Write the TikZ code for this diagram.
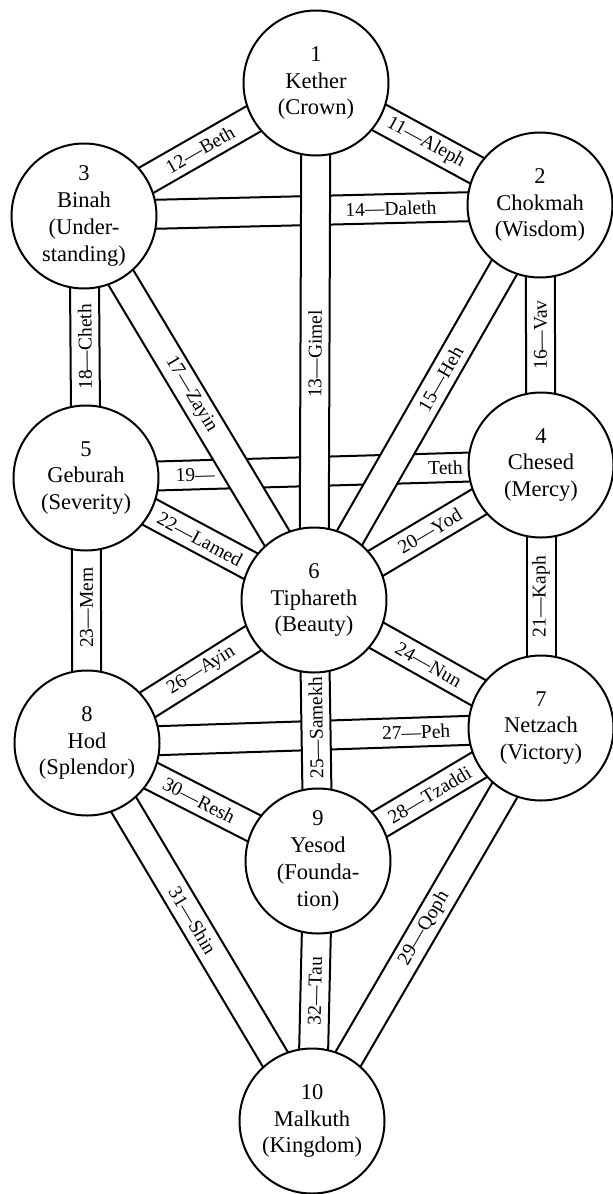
\documentclass[tikz,border=0pt]{standalone}
\usepackage{fontspec}
\setmainfont{Liberation Serif}
\usetikzlibrary{calc,backgrounds}
\tikzset{
  sephira/.style={circle, draw, line width=2pt, fill=white, minimum size=145pt,
    inner sep=0pt, align=center, font=\fontsize{22.5}{26.8}\selectfont},
  lbl/.style={font=\fontsize{19.5}{19.5}\selectfont, inner sep=0pt, sloped, allow upside down},
  bandline/.style={line width=2pt},
}
\newcommand\pathband[2]{%
  \fill[white] ($(#1.center)!14.5pt!90:(#2.center)$) -- ($(#2.center)!14.5pt!-90:(#1.center)$)
    -- ($(#2.center)!14.5pt!90:(#1.center)$) -- ($(#1.center)!14.5pt!-90:(#2.center)$) -- cycle;
  \draw[bandline] ($(#1.center)!14.5pt!90:(#2.center)$) -- ($(#2.center)!14.5pt!-90:(#1.center)$);
  \draw[bandline] ($(#1.center)!14.5pt!-90:(#2.center)$) -- ($(#2.center)!14.5pt!90:(#1.center)$);
}
\begin{document}
\begin{tikzpicture}[x=1pt,y=-1pt]
\useasboundingbox (0,0) rectangle (613,1194);
% sephiroth
\node[sephira] (n1)  at (316,83)   {1\\Kether\\(Crown)};
\node[sephira] (n2)  at (540,205)  {2\\Chokmah\\(Wisdom)};
\node[sephira] (n3)  at (84,216)   {3\\Binah\\(Under-\\standing)};
\node[sephira] (n4)  at (541,465)  {4\\Chesed\\(Mercy)};
\node[sephira] (n5)  at (86,478)   {5\\Geburah\\(Severity)};
\node[sephira] (n6)  at (314,600)  {6\\Tiphareth\\(Beauty)};
\node[sephira] (n7)  at (541,728)  {7\\Netzach\\(Victory)};
\node[sephira] (n8)  at (87,743)   {8\\Hod\\(Splendor)};
\node[sephira] (n9)  at (318,861)  {9\\Yesod\\(Founda-\\tion)};
\node[sephira] (n10) at (312,1121) {10\\Malkuth\\(Kingdom)};
% paths
\begin{scope}[on background layer]
  \fill[white] (0,0) rectangle (613,1194);
  \pathband{n3}{n2}
  \pathband{n5}{n4}
  \pathband{n8}{n7}
  \pathband{n1}{n2}
  \pathband{n3}{n1}
  \pathband{n6}{n1}
  \pathband{n6}{n2}
  \pathband{n4}{n2}
  \pathband{n3}{n6}
  \pathband{n5}{n3}
  \pathband{n6}{n4}
  \pathband{n7}{n4}
  \pathband{n5}{n6}
  \pathband{n8}{n5}
  \pathband{n6}{n7}
  \pathband{n9}{n6}
  \pathband{n8}{n6}
  \pathband{n9}{n7}
  \pathband{n10}{n7}
  \pathband{n8}{n9}
  \pathband{n8}{n10}
  \pathband{n10}{n9}
\end{scope}
% labels
\path (n1.center) -- (n2.center) node[lbl, pos=0.49] {11—Aleph};
\path (n3.center) -- (n1.center) node[lbl, pos=0.5] {12—Beth};
\path (n6.center) -- (n1.center) node[lbl, pos=0.476] {13—Gimel};
\path (n3.center) -- (n2.center) node[lbl, pos=0.673] {14—Daleth};
\path (n6.center) -- (n2.center) node[lbl, pos=0.56] {15—Heh};
\path (n4.center) -- (n2.center) node[lbl, pos=0.5] {16—Vav};
\path (n3.center) -- (n6.center) node[lbl, pos=0.465] {17—Zayin};
\path (n5.center) -- (n3.center) node[lbl, pos=0.5] {18—Cheth};
\path (n5.center) -- (n4.center) node[lbl, pos=0.24] {19—} node[lbl, pos=0.79] {Teth};
\path (n6.center) -- (n4.center) node[lbl, pos=0.51] {20—Yod};
\path (n7.center) -- (n4.center) node[lbl, pos=0.5] {21—Kaph};
\path (n5.center) -- (n6.center) node[lbl, pos=0.5] {22—Lamed};
\path (n8.center) -- (n5.center) node[lbl, pos=0.51] {23—Mem};
\path (n6.center) -- (n7.center) node[lbl, pos=0.505] {24—Nun};
\path (n9.center) -- (n6.center) node[lbl, pos=0.51] {25—Samekh};
\path (n8.center) -- (n6.center) node[lbl, pos=0.505] {26—Ayin};
\path (n8.center) -- (n7.center) node[lbl, pos=0.725] {27—Peh};
\path (n9.center) -- (n7.center) node[lbl, pos=0.5] {28—Tzaddi};
\path (n10.center) -- (n7.center) node[lbl, pos=0.49] {29—Qoph};
\path (n8.center) -- (n9.center) node[lbl, pos=0.485] {30—Resh};
\path (n8.center) -- (n10.center) node[lbl, pos=0.47] {31—Shin};
\path (n10.center) -- (n9.center) node[lbl, pos=0.5] {32—Tau};
\end{tikzpicture}
\end{document}
